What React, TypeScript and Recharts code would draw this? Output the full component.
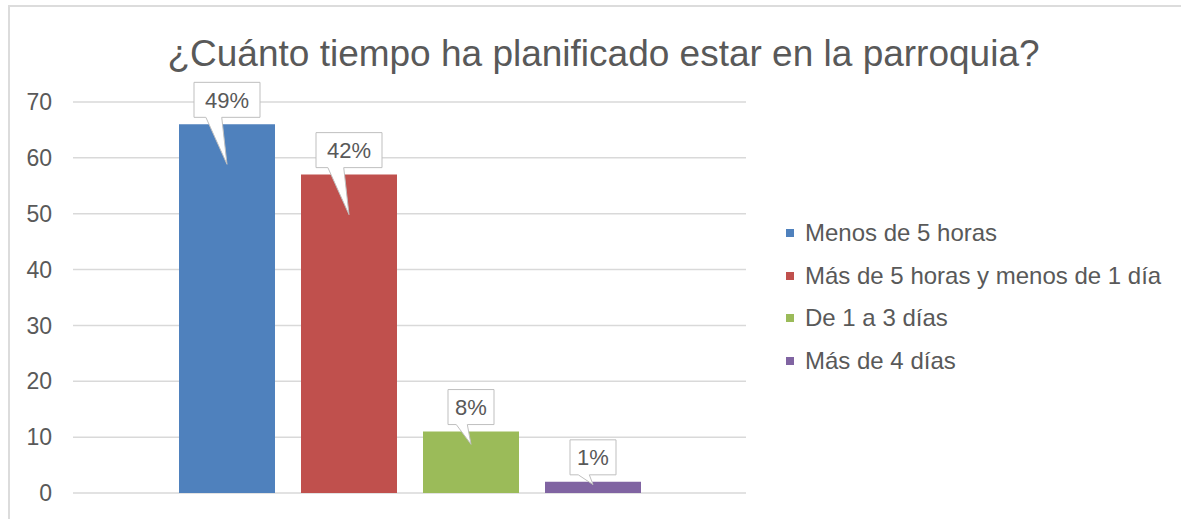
import React from 'react';
import { BarChart, Bar, XAxis, YAxis, CartesianGrid, Legend } from 'recharts';

const titleText = '¿Cuánto tiempo ha planificado estar en la parroquia?';
const seriesKeys = ['s1', 's2', 's3', 's4'];
const seriesNames = [
  'Menos de 5 horas',
  'Más de 5 horas y menos de 1 día',
  'De 1 a 3 días',
  'Más de 4 días',
];
const seriesValues = [66, 57, 11, 2];
const seriesColors = ['#4f81bd', '#c0504d', '#9bbb59', '#8064a2'];
const yTicks = [0, 10, 20, 30, 40, 50, 60, 70];

const total = seriesValues.reduce((a, b) => a + b, 0);
const row: Record<string, number | string> = { name: 'c' };
seriesKeys.forEach((k, i) => {
  row[k] = seriesValues[i];
});
const data = [row];

const FONT = '"Liberation Sans", Arial, sans-serif';
const TEXT = '#595959';

const Callout = (props: any) => {
  const { x, y, width, height, value } = props;
  const pct = Math.round((Number(value) / total) * 100) + '%';
  const cx = Number(x) + Number(width) / 2;
  const top = Number(y);
  const h = Number(height);
  const bw = pct.length >= 3 ? 66 : 46;
  const bh = 35;
  const bx = cx - bw / 2;
  const by = top - 7 - bh;
  const tipY = top + Math.min(40, h * 0.2 + 0.5);
  const p1 = bx + bw * 0.18;
  const p2 = bx + bw * 0.42;
  const d = `M${bx},${by} L${bx + bw},${by} L${bx + bw},${by + bh} L${p2},${by + bh} L${cx},${tipY} L${p1},${by + bh} L${bx},${by + bh} Z`;
  return (
    <g>
      <path d={d} fill="#ffffff" stroke="#bfbfbf" strokeWidth={1} />
      <text
        x={bx + bw / 2}
        y={by + bh / 2}
        dy="0.355em"
        textAnchor="middle"
        fontFamily={FONT}
        fontSize={22}
        fill={TEXT}
      >
        {pct}
      </text>
    </g>
  );
};

const LegendContent = (props: any) => {
  const payload = [...(props.payload || [])].sort(
    (a: any, b: any) => seriesNames.indexOf(a.value) - seriesNames.indexOf(b.value)
  );
  return (
    <div style={{ position: 'relative', width: 0, height: 0 }}>
      {payload.map((p: any, i: number) => (
        <div
          key={i}
          style={{
            position: 'absolute',
            left: 0,
            top: i * 42.7,
            height: 24,
            display: 'flex',
            alignItems: 'center',
            whiteSpace: 'nowrap',
            fontFamily: FONT,
            fontSize: 24,
            color: TEXT,
          }}
        >
          <span
            style={{
              display: 'inline-block',
              width: 8,
              height: 8,
              background: p.color,
              marginRight: 11,
            }}
          />
          {p.value}
        </div>
      ))}
    </div>
  );
};

export default function App() {
  return (
    <div style={{ position: 'absolute', left: 0, top: 0, width: 1181, height: 519, overflow: 'hidden', background: '#fff' }}>
      <div
        style={{
          position: 'absolute',
          left: 8,
          top: 5,
          width: 1173,
          height: 514,
          boxSizing: 'border-box',
          borderTop: '2px solid #dcdcdc',
          borderLeft: '2px solid #dcdcdc',
        }}
      />
      <div
        style={{
          position: 'absolute',
          left: 0,
          width: 1207,
          top: 34.7,
          lineHeight: '37px',
          fontSize: 37,
          fontFamily: FONT,
          color: TEXT,
          textAlign: 'center',
          whiteSpace: 'nowrap',
        }}
      >
        {titleText}
      </div>
      <div style={{ position: 'absolute', left: 0, top: 0 }}>
        <BarChart
          width={1181}
          height={519}
          data={data}
          margin={{ top: 102, right: 435, bottom: 26, left: 13 }}
          barSize={96}
          barGap={26}
        >
          <CartesianGrid vertical={false} stroke="#d9d9d9" strokeWidth={1.5} />
          <XAxis dataKey="name" hide />
          <YAxis
            domain={[0, 70]}
            ticks={yTicks}
            interval={0}
            width={60}
            axisLine={false}
            tickLine={false}
            tickSize={0}
            tickMargin={21}
            tick={{ fontFamily: FONT, fontSize: 23, fill: TEXT }}
          />
          <Legend
            content={<LegendContent />}
            wrapperStyle={{ position: 'absolute', left: 786, top: 221, width: 0, height: 0 }}
          />
          {seriesKeys.map((k, i) => (
            <Bar
              key={k}
              dataKey={k}
              name={seriesNames[i]}
              fill={seriesColors[i]}
              isAnimationActive={false}
              label={<Callout />}
            />
          ))}
        </BarChart>
      </div>
    </div>
  );
}
